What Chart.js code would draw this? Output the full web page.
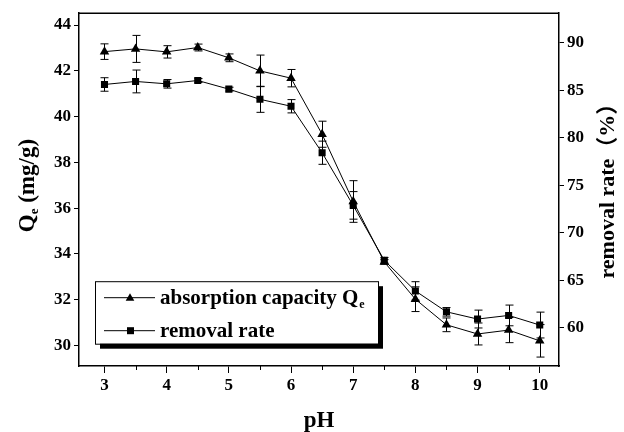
<!DOCTYPE html>
<html><head><meta charset="utf-8">
<script src="https://cdn.jsdelivr.net/npm/chart.js@4.4.1/dist/chart.umd.min.js"></script>
<style>html,body{margin:0;padding:0;background:#fff;}#wrap{width:624px;height:432px;}</style>
</head><body><div id="wrap"><canvas id="c" width="624" height="432"></canvas></div>
<script>
// ---- data ----
const pH = [3, 3.5, 4, 4.5, 5, 5.5, 6, 6.5, 7, 7.5, 8, 8.5, 9, 9.5, 10];
const capacity = [42.84, 42.96, 42.83, 43.02, 42.57, 42.0, 41.68, 39.23, 36.29, 33.65, 32.02, 30.9, 30.5, 30.67, 30.2];
const capacityErr = [0.34, 0.59, 0.27, 0.15, 0.17, 0.69, 0.38, 0.57, 0.91, 0.1, 0.54, 0.3, 0.48, 0.55, 0.71];
const removal = [85.6, 85.92, 85.67, 86.02, 85.11, 84.04, 83.31, 78.42, 72.88, 67.1, 63.88, 61.68, 60.92, 61.3, 60.29];
const removalErr = [0.71, 1.2, 0.45, 0.2, 0.2, 1.37, 0.7, 1.22, 1.45, 0.3, 0.97, 0.45, 0.94, 1.09, 1.36];
const xTicks = [3, 4, 5, 6, 7, 8, 9, 10];
const xMinorTicks = [3.5, 4.5, 5.5, 6.5, 7.5, 8.5, 9.5];
const leftTicks = [30, 32, 34, 36, 38, 40, 42, 44];
const rightTicks = [60, 65, 70, 75, 80, 85, 90];
const seriesNames = ['absorption capacity Q', 'removal rate'];
const xTitle = 'pH';
const leftTitle = ['Q', 'e', ' (mg/g)'];
const rightTitle = 'removal rate\uFF08%\uFF09';

const FONT = '"Liberation Serif", "Times New Roman", "Noto Sans CJK SC", serif';
const errs = [capacityErr, removalErr];

function tri(ctx, x, y, r) {
  ctx.beginPath();
  ctx.moveTo(x, y - r);
  ctx.lineTo(x + r * 0.866, y + r / 2);
  ctx.lineTo(x - r * 0.866, y + r / 2);
  ctx.closePath(); ctx.fill();
}

const errorBars = {
  id: 'errorBars',
  beforeDatasetsDraw(chart) {
    const ctx = chart.ctx, xs = chart.scales.x;
    ctx.save();
    ctx.strokeStyle = '#000'; ctx.lineWidth = 1;
    chart.data.datasets.forEach((ds, di) => {
      const ys = chart.scales[ds.yAxisID];
      ds.data.forEach((p, i) => {
        const x = Math.round(xs.getPixelForValue(p.x)) + 0.5;
        const yT = ys.getPixelForValue(p.y + errs[di][i]);
        const yB = ys.getPixelForValue(p.y - errs[di][i]);
        ctx.beginPath();
        ctx.moveTo(x, yT); ctx.lineTo(x, yB);
        ctx.moveTo(x - 4, yT); ctx.lineTo(x + 4, yT);
        ctx.moveTo(x - 4, yB); ctx.lineTo(x + 4, yB);
        ctx.stroke();
      });
    });
    ctx.restore();
  }
};

const decor = {
  id: 'decor',
  afterDraw(chart) {
    const ctx = chart.ctx, ca = chart.chartArea, xs = chart.scales.x;
    ctx.save();
    ctx.strokeStyle = '#000'; ctx.fillStyle = '#000';
    // top border
    ctx.lineWidth = 1.5;
    ctx.beginPath(); ctx.moveTo(ca.left, ca.top); ctx.lineTo(ca.right, ca.top); ctx.stroke();
    // minor x ticks
    ctx.lineWidth = 1;
    xMinorTicks.forEach(v => {
      const x = Math.round(xs.getPixelForValue(v)) + 0.5;
      ctx.beginPath(); ctx.moveTo(x, ca.bottom); ctx.lineTo(x, ca.bottom + 4); ctx.stroke();
    });
    // x title
    ctx.font = 'bold 23px ' + FONT;
    ctx.textAlign = 'center'; ctx.textBaseline = 'alphabetic';
    ctx.fillText(xTitle, (ca.left + ca.right) / 2, 427);
    // left title
    const cy = (ca.top + ca.bottom) / 2 - 4;
    ctx.save();
    ctx.translate(34, cy);
    ctx.rotate(-Math.PI / 2);
    ctx.textAlign = 'left';
    const big = 'bold 23px ' + FONT, small = 'bold 13px ' + FONT;
    ctx.font = big; const w1 = ctx.measureText(leftTitle[0]).width, w3 = ctx.measureText(leftTitle[2]).width;
    ctx.font = small; const w2 = ctx.measureText(leftTitle[1]).width;
    let sx = -(w1 + w2 + w3) / 2;
    ctx.font = big; ctx.fillText(leftTitle[0], sx, 0); sx += w1;
    ctx.font = small; ctx.fillText(leftTitle[1], sx, 4); sx += w2;
    ctx.font = big; ctx.fillText(leftTitle[2], sx, 0);
    ctx.restore();
    // right title
    ctx.save();
    ctx.translate(614, cy);
    ctx.rotate(-Math.PI / 2);
    ctx.textAlign = 'center';
    ctx.font = 'bold 22px ' + FONT;
    ctx.fillText(rightTitle, 0, 0);
    ctx.restore();
    // legend
    const L = ca.left + 16, T = ca.top + 268, R = ca.left + 299, B = ca.top + 330.5;
    ctx.fillStyle = '#000';
    ctx.fillRect(L + 5, T + 5, R - L, B - T);
    ctx.fillStyle = '#fff';
    ctx.fillRect(L, T, R - L, B - T);
    ctx.lineWidth = 1; ctx.strokeStyle = '#000';
    ctx.strokeRect(L + 0.5, T + 0.5, R - L, B - T);
    const rows = [T + 16, T + 49];
    ctx.fillStyle = '#000';
    rows.forEach((ry, k) => {
      ctx.beginPath(); ctx.moveTo(L + 9, ry + 0.5); ctx.lineTo(L + 60, ry + 0.5); ctx.stroke();
      if (k === 0) tri(ctx, L + 35, ry + 1, 5);
      else ctx.fillRect(L + 32, ry - 3, 7, 7);
      ctx.font = 'bold 21px ' + FONT;
      ctx.textAlign = 'left';
      ctx.fillText(seriesNames[k], L + 65, ry + 7);
      if (k === 0) {
        const tw = ctx.measureText(seriesNames[k]).width;
        ctx.font = 'bold 12px ' + FONT;
        ctx.fillText('e', L + 65 + tw + 1, ry + 11);
      }
    });
    ctx.restore();
  }
};

const tickFont = { family: FONT, size: 17, weight: 'bold' };

new Chart(document.getElementById('c'), {
  type: 'line',
  data: {
    datasets: [
      {
        label: seriesNames[0], yAxisID: 'y',
        data: pH.map((v, i) => ({ x: v, y: capacity[i] })),
        borderColor: '#000', borderWidth: 1, backgroundColor: '#000',
        pointStyle: 'triangle', pointRadius: 5.5, pointBorderWidth: 0,
        pointBackgroundColor: '#000', tension: 0, order: 2
      },
      {
        label: seriesNames[1], yAxisID: 'y1',
        data: pH.map((v, i) => ({ x: v, y: removal[i] })),
        borderColor: '#000', borderWidth: 1, backgroundColor: '#000',
        pointStyle: 'rect', pointRadius: 5, pointBorderWidth: 0,
        pointBackgroundColor: '#000', tension: 0, order: 1
      }
    ]
  },
  options: {
    responsive: false, animation: false,
    layout: { padding: { top: 11, left: 0, right: 0, bottom: 0 } },
    plugins: { legend: { display: false }, tooltip: { enabled: false } },
    scales: {
      x: {
        type: 'linear', position: 'bottom', min: 2.59, max: 10.31,
        afterBuildTicks: s => { s.ticks = xTicks.map(v => ({ value: v })); },
        afterFit: s => { s.height = 66; },
        grid: { drawOnChartArea: false, drawTicks: true, tickLength: 7, color: '#000', tickWidth: 1 },
        border: { display: true, color: '#000', width: 1.5 },
        ticks: { color: '#000', font: tickFont, padding: 2, maxRotation: 0, autoSkip: false }
      },
      y: {
        type: 'linear', position: 'left', min: 29.1, max: 44.52,
        afterBuildTicks: s => { s.ticks = leftTicks.map(v => ({ value: v })); },
        afterFit: s => { s.width = 79; },
        grid: { drawOnChartArea: false, drawTicks: true, tickLength: 5, color: '#000', tickWidth: 1 },
        border: { display: true, color: '#000', width: 1.5 },
        ticks: { color: '#000', font: tickFont, padding: 3, autoSkip: false }
      },
      y1: {
        type: 'linear', position: 'right', min: 55.98, max: 93.1,
        afterBuildTicks: s => { s.ticks = rightTicks.map(v => ({ value: v })); },
        afterFit: s => { s.width = 65; },
        grid: { drawOnChartArea: false, drawTicks: true, tickLength: 5, color: '#000', tickWidth: 1 },
        border: { display: true, color: '#000', width: 1.5 },
        ticks: { color: '#000', font: tickFont, padding: 3, autoSkip: false }
      }
    }
  },
  plugins: [errorBars, decor]
});
</script></body></html>
